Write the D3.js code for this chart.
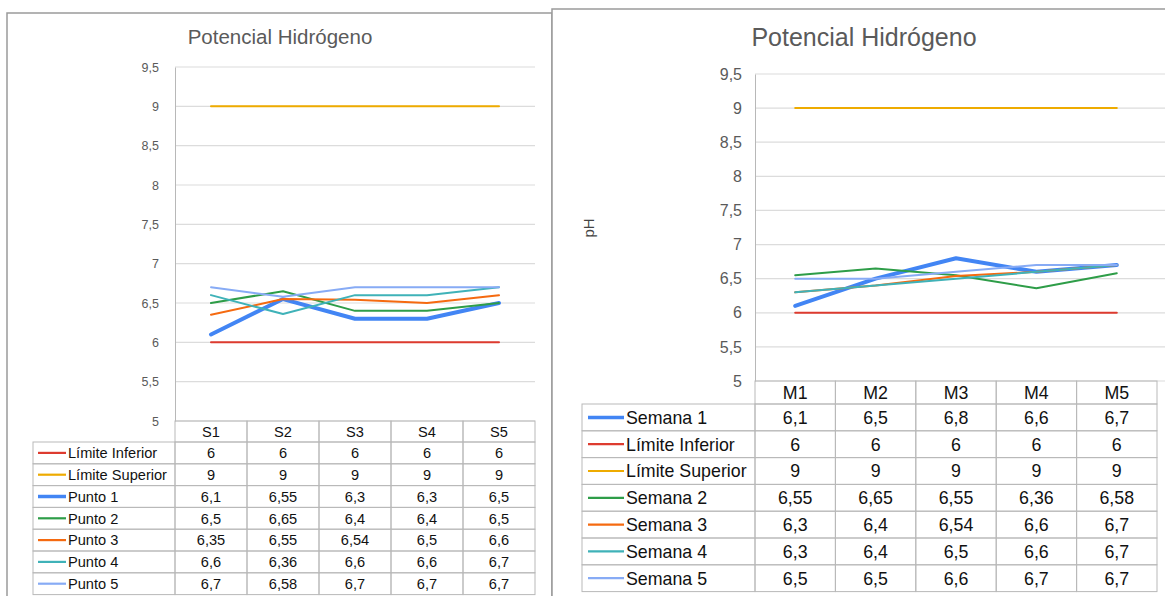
<!DOCTYPE html>
<html>
<head>
<meta charset="utf-8">
<script src="https://cdn.jsdelivr.net/npm/d3@7"></script>
<style>
  html, body { margin: 0; padding: 0; background: #ffffff; }
  svg { display: block; font-family: "Liberation Sans", Arial, sans-serif; }
</style>
</head>
<body>
<svg id="chart" width="1165" height="596"></svg>
<script>
// ---- Data: sampling points per station (left) ----
const pointCategories = ["S1", "S2", "S3", "S4", "S5"];
const pointSeriesNames = ["Límite Inferior", "Límite Superior", "Punto 1", "Punto 2", "Punto 3", "Punto 4", "Punto 5"];
const pointLimiteInferior = [6, 6, 6, 6, 6];
const pointLimiteSuperior = [9, 9, 9, 9, 9];
const punto1 = [6.1, 6.55, 6.3, 6.3, 6.5];
const punto2 = [6.5, 6.65, 6.4, 6.4, 6.5];
const punto3 = [6.35, 6.55, 6.54, 6.5, 6.6];
const punto4 = [6.6, 6.36, 6.6, 6.6, 6.7];
const punto5 = [6.7, 6.58, 6.7, 6.7, 6.7];

// ---- Data: weekly samples per sample (right) ----
const weekCategories = ["M1", "M2", "M3", "M4", "M5"];
const weekSeriesNames = ["Semana 1", "Límite Inferior", "Límite Superior", "Semana 2", "Semana 3", "Semana 4", "Semana 5"];
const semana1 = [6.1, 6.5, 6.8, 6.6, 6.7];
const weekLimiteInferior = [6, 6, 6, 6, 6];
const weekLimiteSuperior = [9, 9, 9, 9, 9];
const semana2 = [6.55, 6.65, 6.55, 6.36, 6.58];
const semana3 = [6.3, 6.4, 6.54, 6.6, 6.7];
const semana4 = [6.3, 6.4, 6.5, 6.6, 6.7];
const semana5 = [6.5, 6.5, 6.6, 6.7, 6.7];

const yTicks = [5, 5.5, 6, 6.5, 7, 7.5, 8, 8.5, 9, 9.5];

const C = {
  blue: "#4285f4", red: "#dd3b2f", yellow: "#eeab00", green: "#2e9d48",
  orange: "#f56a10", teal: "#3fb2b8", lightBlue: "#87abf5"
};

const fmt = v => String(v).replace(".", ",");
const svg = d3.select("#chart");

function drawPanel(cfg) {
  const g = svg.append("g");

  // panel frame
  g.append("rect")
    .attr("x", cfg.frame[0]).attr("y", cfg.frame[1])
    .attr("width", cfg.frame[2]).attr("height", cfg.frame[3])
    .attr("fill", "#fff").attr("stroke", "#9a9a9a").attr("stroke-width", 1.5);

  // title
  g.append("text")
    .attr("x", cfg.titleX).attr("y", cfg.titleY)
    .attr("text-anchor", "middle")
    .attr("font-size", cfg.titleSize).attr("fill", "#5a5a5a")
    .text("Potencial Hidrógeno");

  const x = d3.scaleBand().domain(cfg.categories).range([cfg.plotLeft, cfg.plotRight]);
  const y = d3.scaleLinear().domain([5, 9.5]).range([cfg.plotBottom, cfg.plotTop]);

  // horizontal gridlines
  g.append("g").selectAll("line").data(yTicks).join("line")
    .attr("x1", cfg.plotLeft).attr("x2", cfg.gridRight)
    .attr("y1", d => y(d)).attr("y2", d => y(d))
    .attr("stroke", "#dcdcdc").attr("stroke-width", 1.2);

  // y axis
  const yAxis = g.append("g")
    .attr("transform", `translate(${cfg.plotLeft},0)`)
    .call(d3.axisLeft(y).tickValues(yTicks).tickFormat(fmt).tickSize(0).tickPadding(cfg.tickPad));
  yAxis.select(".domain").attr("stroke", "#b8b8b8");
  yAxis.selectAll("text")
    .attr("font-size", cfg.tickSize).attr("fill", "#5a5a5a")
    .attr("font-family", "Liberation Sans, Arial, sans-serif");

  if (cfg.yTitle) {
    g.append("text")
      .attr("transform", `translate(${cfg.yTitle[0]},${cfg.yTitle[1]}) rotate(-90)`)
      .attr("text-anchor", "middle")
      .attr("font-size", cfg.yTitleSize).attr("fill", "#444")
      .text(cfg.yTitleText);
  }

  // lines
  const line = d3.line()
    .x((d, i) => x(cfg.categories[i]) + x.bandwidth() / 2)
    .y(d => y(d));
  cfg.series.forEach(s => {
    g.append("path")
      .datum(s.values)
      .attr("d", line)
      .attr("fill", "none")
      .attr("stroke", s.color)
      .attr("stroke-width", s.width)
      .attr("stroke-linejoin", "round")
      .attr("stroke-linecap", "round");
  });

  // data table
  const t = g.append("g");
  const hdrTop = cfg.plotBottom;
  const rowTop = i => cfg.tableTop + i * cfg.rowH;
  const gridColor = "#b9b9b9";

  // header row
  cfg.categories.forEach(c => {
    t.append("rect")
      .attr("x", x(c)).attr("y", hdrTop)
      .attr("width", x.bandwidth()).attr("height", cfg.tableTop - hdrTop)
      .attr("fill", "none").attr("stroke", gridColor).attr("stroke-width", 1);
    t.append("text")
      .attr("x", x(c) + x.bandwidth() / 2)
      .attr("y", (hdrTop + cfg.tableTop) / 2)
      .attr("dy", "0.36em").attr("text-anchor", "middle")
      .attr("font-size", cfg.cellSize).attr("fill", "#111")
      .text(c);
  });

  cfg.series.forEach((s, i) => {
    const top = rowTop(i);
    const mid = top + cfg.rowH / 2;
    t.append("rect")
      .attr("x", cfg.labelLeft).attr("y", top)
      .attr("width", cfg.plotLeft - cfg.labelLeft).attr("height", cfg.rowH)
      .attr("fill", "none").attr("stroke", gridColor).attr("stroke-width", 1);
    t.append("line")
      .attr("x1", cfg.swatch[0]).attr("x2", cfg.swatch[1])
      .attr("y1", mid).attr("y2", mid)
      .attr("stroke", s.color).attr("stroke-width", s.width === 4 ? 3.5 : 2.2);
    t.append("text")
      .attr("x", cfg.swatch[1] + 2).attr("y", mid).attr("dy", "0.36em")
      .attr("font-size", cfg.cellSize).attr("fill", "#111")
      .text(s.name);
    s.values.forEach((v, j) => {
      const c = cfg.categories[j];
      t.append("rect")
        .attr("x", x(c)).attr("y", top)
        .attr("width", x.bandwidth()).attr("height", cfg.rowH)
        .attr("fill", "none").attr("stroke", gridColor).attr("stroke-width", 1);
      t.append("text")
        .attr("x", x(c) + x.bandwidth() / 2).attr("y", mid).attr("dy", "0.36em")
        .attr("text-anchor", "middle")
        .attr("font-size", cfg.cellSize).attr("fill", "#111")
        .text(fmt(v));
    });
  });
}

const pointValues = [pointLimiteInferior, pointLimiteSuperior, punto1, punto2, punto3, punto4, punto5];
const pointColors = [C.red, C.yellow, C.blue, C.green, C.orange, C.teal, C.lightBlue];
const weekValues = [semana1, weekLimiteInferior, weekLimiteSuperior, semana2, semana3, semana4, semana5];
const weekColors = [C.blue, C.red, C.yellow, C.green, C.orange, C.teal, C.lightBlue];

drawPanel({
  frame: [7, 13, 545, 600],
  titleX: 280, titleY: 44, titleSize: 20.5,
  categories: pointCategories,
  plotLeft: 175, plotRight: 535, gridRight: 535,
  plotTop: 67, plotBottom: 421,
  tickSize: 12.5, tickPad: 16,
  labelLeft: 33, tableTop: 442, rowH: 21.8,
  swatch: [38, 66], cellSize: 14.6,
  series: pointSeriesNames.map((n, i) => ({
    name: n, values: pointValues[i], color: pointColors[i], width: n === "Punto 1" ? 4 : 2
  }))
});

drawPanel({
  frame: [552, 9, 640, 600],
  titleX: 864, titleY: 46, titleSize: 25,
  categories: weekCategories,
  plotLeft: 755, plotRight: 1157, gridRight: 1165,
  plotTop: 74, plotBottom: 381,
  tickSize: 16, tickPad: 13,
  yTitle: [594, 228], yTitleSize: 15, yTitleText: "pH",
  labelLeft: 582, tableTop: 404, rowH: 26.8,
  swatch: [588, 624], cellSize: 17.8,
  series: weekSeriesNames.map((n, i) => ({
    name: n, values: weekValues[i], color: weekColors[i], width: n === "Semana 1" ? 4 : 2
  }))
});
</script>
</body>
</html>
